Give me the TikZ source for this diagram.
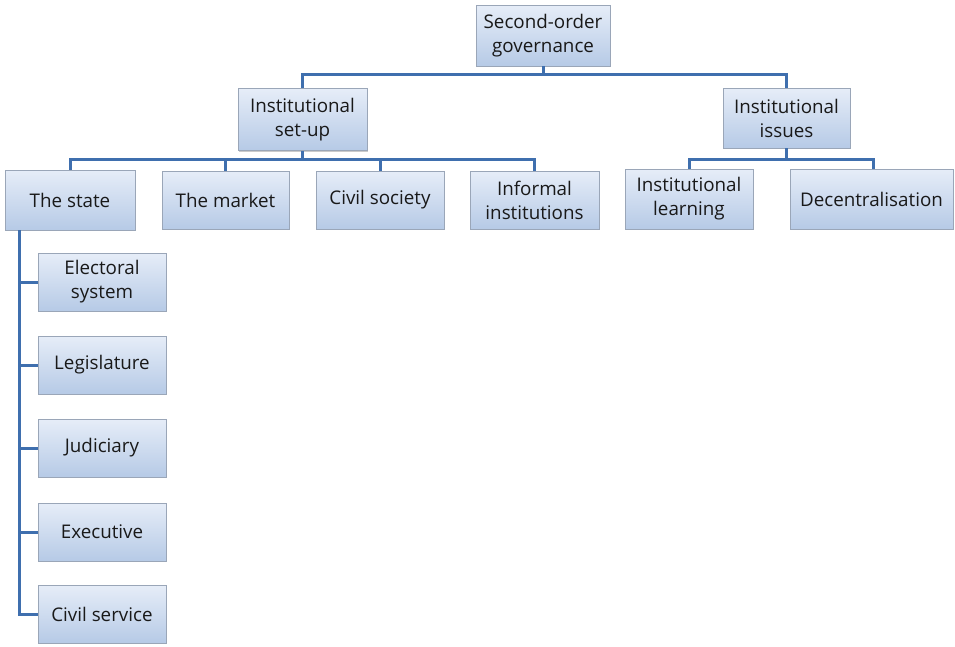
\documentclass[tikz,border=0pt]{standalone}
\usepackage{fontspec}
\setmainfont{Open Sans}
\usetikzlibrary{shadows}
\definecolor{linkblue}{HTML}{3F6FAE}
\definecolor{boxtop}{HTML}{E6EDF8}
\definecolor{boxbottom}{HTML}{B6CAE6}
\definecolor{boxedge}{HTML}{9AA6B8}
\tikzset{
  orgbox/.style={rectangle, draw=boxedge, line width=0.8pt,
    top color=boxtop, bottom color=boxbottom,
    drop shadow={shadow xshift=1.2pt, shadow yshift=-1.2pt, opacity=0.35, fill=black!60},
    align=center, inner sep=2pt,
    font=\fontsize{18.8}{24}\selectfont, text=black!90},
  link/.style={draw=linkblue, line width=3pt}
}
\begin{document}
\begin{tikzpicture}[x=1pt, y=-1pt]
\useasboundingbox (0,0) rectangle (955,646);

% top level
\node[orgbox, minimum width=134pt, minimum height=61pt] (root) at (543,35.5) {Second-order\\governance};

% second level
\node[orgbox, minimum width=129pt, minimum height=62pt] (setup) at (302.5,119.5) {Institutional\\set-up};
\node[orgbox, minimum width=127pt, minimum height=60pt] (issues) at (786.5,118) {Institutional\\issues};

% third level
\node[orgbox, minimum width=130pt, minimum height=60pt] (state) at (70,200) {The state};
\node[orgbox, minimum width=127pt, minimum height=58pt] (market) at (225.5,200) {The market};
\node[orgbox, minimum width=128pt, minimum height=58pt] (civil) at (380,200) {Civil society};
\node[orgbox, minimum width=129pt, minimum height=58pt] (informal) at (534.5,200) {Informal\\institutions};
\node[orgbox, minimum width=128pt, minimum height=60pt] (learning) at (689,199) {Institutional\\learning};
\node[orgbox, minimum width=163pt, minimum height=60pt] (decentral) at (871.5,199) {Decentralisation};

% branches of the state
\node[orgbox, minimum width=128pt, minimum height=58pt] (electoral) at (102,282) {Electoral\\system};
\node[orgbox, minimum width=128pt, minimum height=58pt] (legis) at (102,365) {Legislature};
\node[orgbox, minimum width=128pt, minimum height=58pt] (judic) at (102,448) {Judiciary};
\node[orgbox, minimum width=128pt, minimum height=58pt] (exec) at (102,532) {Executive};
\node[orgbox, minimum width=128pt, minimum height=58pt] (service) at (102,614) {Civil service};

% bus lines
\coordinate (busA) at (543,74.5);
\coordinate (busB) at (0,159);
\coordinate (spine) at (19,230);

\draw[link] (root.south) -- (busA);
\draw[link] (busA) -| (setup.north);
\draw[link] (busA) -| (issues.north);

\draw[link] (setup.south) -- (setup.south |- busB);
\foreach \n in {state, market, civil, informal}
  \draw[link] (setup.south |- busB) -| (\n.north);

\draw[link] (issues.south) -- (issues.south |- busB);
\draw[link] (issues.south |- busB) -| (learning.north);
\draw[link] (issues.south |- busB) -| ([xshift=2pt]decentral.north);

\draw[link] (spine) |- (service.west);
\foreach \n in {electoral, legis, judic, exec}
  \draw[link] (\n.west -| spine) -- (\n.west);
\end{tikzpicture}
\end{document}
